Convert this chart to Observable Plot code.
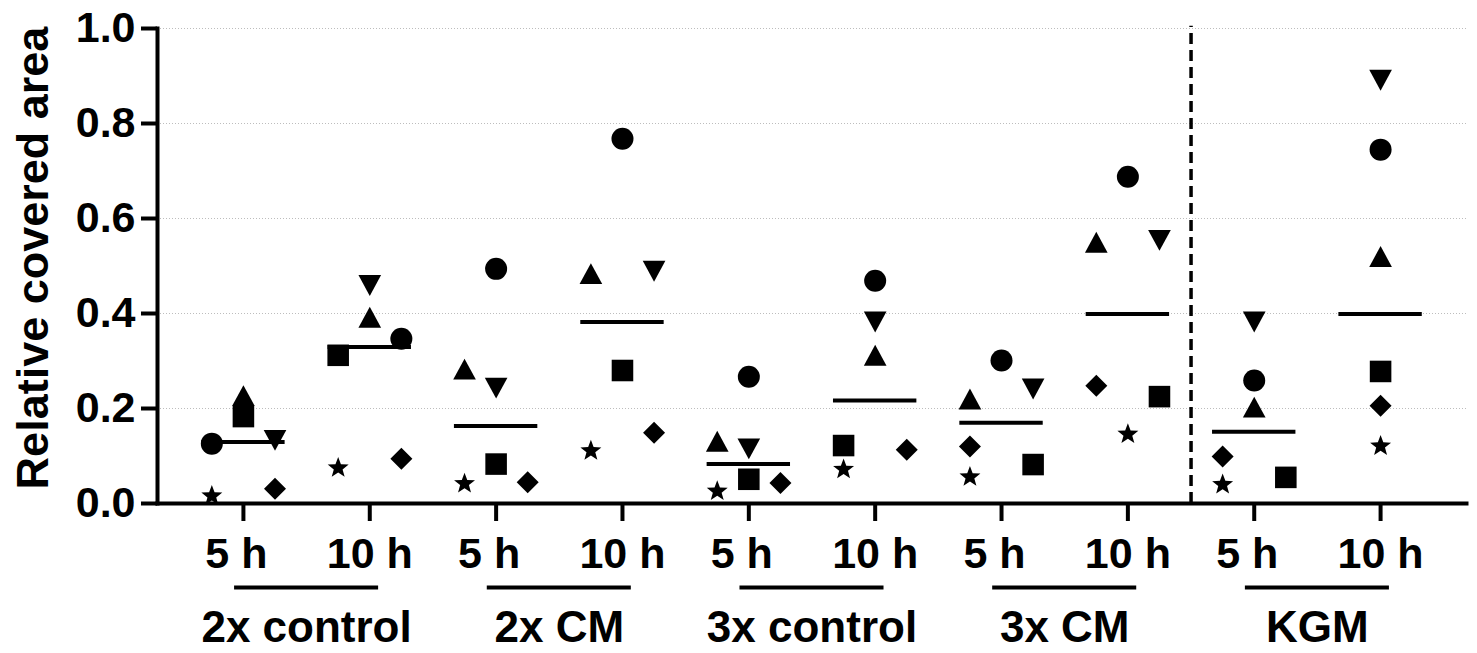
<!DOCTYPE html>
<html>
<head>
<meta charset="utf-8">
<script src="https://cdn.jsdelivr.net/npm/d3@7"></script>
<script src="https://cdn.jsdelivr.net/npm/@observablehq/plot@0.6"></script>
<style>
  html, body { margin: 0; padding: 0; background: #fff; overflow: hidden; }
  svg { font-family: "Liberation Sans", Arial, sans-serif; font-weight: bold; }
</style>
</head>
<body>
<div id="chart"></div>
<script>
// ---- data ----
const times = ["5 h", "10 h"];
const groups = ["2x control", "2x CM", "3x control", "3x CM", "KGM"];
const yTicks = [0, 0.2, 0.4, 0.6, 0.8, 1.0];
const yTitle = "Relative covered area";

// values per replicate (symbol), one per condition (10 conditions: group x time)
const circle  = [0.126, 0.347, 0.494, 0.768, 0.267, 0.469, 0.301, 0.688, 0.259, 0.745];
const square  = [0.183, 0.312, 0.083, 0.280, 0.051, 0.122, 0.082, 0.225, 0.055, 0.278];
const triUp   = [0.227, 0.392, 0.283, 0.484, 0.131, 0.312, 0.220, 0.550, 0.203, 0.520];
const triDown = [0.133, 0.459, 0.243, 0.489, 0.115, 0.382, 0.241, 0.554, 0.382, 0.891];
const diamond = [0.031, 0.094, 0.045, 0.149, 0.043, 0.113, 0.120, 0.248, 0.099, 0.206];
const star    = [0.017, 0.076, 0.043, 0.112, 0.027, 0.073, 0.057, 0.147, 0.041, 0.122];

// scatter lane of each point inside its column (-1 left, 0 centre, 1 right)
const laneCircle  = [-1, 1, 0, 0, 0, 0, 0, 0, 0, 0];
const laneSquare  = [0, -1, 0, 0, 0, -1, 1, 1, 1, 0];
const laneTriUp   = [0, 0, -1, -1, -1, 0, -1, -1, 0, 0];
const laneTriDown = [1, 0, 0, 1, 0, 0, 1, 1, 0, 0];
const laneDiamond = [1, 1, 1, 1, 1, 1, -1, -1, -1, 0];
const laneStar    = [-1, -1, -1, -1, -1, -1, -1, 0, -1, 0];

// separator between the 3x CM and KGM groups
const separator = [7.5];

// ---- symbols ----
const rad = s => Math.sqrt(s / Math.PI);
const symbols = {
  circle:  {draw(c, s) { const r = rad(s); c.moveTo(r, 0); c.arc(0, 0, r, 0, 2 * Math.PI); c.closePath(); }},
  square:  {draw(c, s) { const r = rad(s) * 0.98; c.rect(-r, -r, 2 * r, 2 * r); }},
  triUp:   {draw(c, s) { const r = rad(s), h = 0.95 * r, w = 1.03 * r; c.moveTo(0, -h); c.lineTo(w, h); c.lineTo(-w, h); c.closePath(); }},
  triDown: {draw(c, s) { const r = rad(s), h = 0.95 * r, w = 1.03 * r; c.moveTo(0, h); c.lineTo(w, -h); c.lineTo(-w, -h); c.closePath(); }},
  diamond: {draw(c, s) { const r = rad(s); c.moveTo(0, -r); c.lineTo(r, 0); c.lineTo(0, r); c.lineTo(-r, 0); c.closePath(); }},
  star:    {draw(c, s) {
    const R = rad(s), ri = R * 0.42;
    for (let k = 0; k < 10; k++) {
      const a = -Math.PI / 2 + k * Math.PI / 5, rr = k % 2 ? ri : R;
      const px = rr * Math.cos(a), py = rr * Math.sin(a) + R * 0.05;
      k ? c.lineTo(px, py) : c.moveTo(px, py);
    }
    c.closePath();
  }}
};

const series = [
  ["circle", circle, laneCircle],
  ["triUp", triUp, laneTriUp],
  ["square", square, laneSquare],
  ["triDown", triDown, laneTriDown],
  ["diamond", diamond, laneDiamond],
  ["star", star, laneStar]
];

const points = series.flatMap(([shape, vals, lanes]) =>
  vals.map((v, i) => ({shape, cond: i, v, x: i + lanes[i] * 0.25})));

const conds = d3.range(10);
const medians = conds.map(i => ({cond: i, v: d3.median(series, ([, vals]) => vals[i])}));

const font = {fontFamily: "Liberation Sans, Arial, sans-serif", fontWeight: "bold"};

const chart = Plot.plot({
  width: 1477,
  height: 653,
  marginLeft: 157,
  marginRight: 11,
  marginTop: 28,
  marginBottom: 150,
  x: {domain: [-0.68, 9.68]},
  y: {domain: [0, 1]},
  marks: [
    Plot.ruleY(yTicks.filter(d => d > 0), {stroke: "#bdbdbd", strokeWidth: 1, strokeDasharray: "1,2"}),
    Plot.ruleX(separator, {y1: () => 0, y2: () => 1.005, strokeWidth: 3.5, strokeDasharray: "11,6"}),
    Plot.frame({anchor: "left", strokeWidth: 4}),
    Plot.frame({anchor: "bottom", strokeWidth: 4}),
    Plot.axisY({ticks: yTicks, tickFormat: d3.format(".1f"), tickSize: 16, tickPadding: 6, strokeWidth: 4,
      fontSize: 43, label: null, ...font}),
    Plot.axisX({ticks: conds, tickFormat: () => "", tickSize: 18, strokeWidth: 4, label: null}),
    Plot.axisX({ticks: conds.filter(i => i % 2 === 0), tickFormat: () => times[0], tickSize: 0, tickPadding: 34,
      fontSize: 43, dx: -7, label: null, ...font}),
    Plot.axisX({ticks: conds.filter(i => i % 2 === 1), tickFormat: () => times[1], tickSize: 0, tickPadding: 34,
      fontSize: 43, label: null, ...font}),
    Plot.ruleY(d3.range(groups.length), {x1: g => 2 * g - 0.07, x2: g => 2 * g + 1.07, y: () => 0, dy: 84, strokeWidth: 4}),
    Plot.axisX({ticks: groups.map((g, k) => 2 * k + 0.5), tickFormat: d => groups[Math.round((d - 0.5) / 2)],
      tickSize: 0, tickPadding: 107, fontSize: 44, label: null, ...font}),
    Plot.text([yTitle], {text: d => d, frameAnchor: "left", textAnchor: "middle", rotate: -90, dx: -124, dy: -8,
      fontSize: 45, ...font}),
    Plot.ruleY(medians, {x1: d => d.cond - 0.33, x2: d => d.cond + 0.33, y: "v", strokeWidth: 4}),
    ...series.map(([shape]) => Plot.dot(points.filter(p => p.shape === shape),
      {x: "x", y: "v", r: 11, symbol: symbols[shape], fill: "black", stroke: "none"}))
  ]
});
document.getElementById("chart").appendChild(chart);
</script>
</body>
</html>
